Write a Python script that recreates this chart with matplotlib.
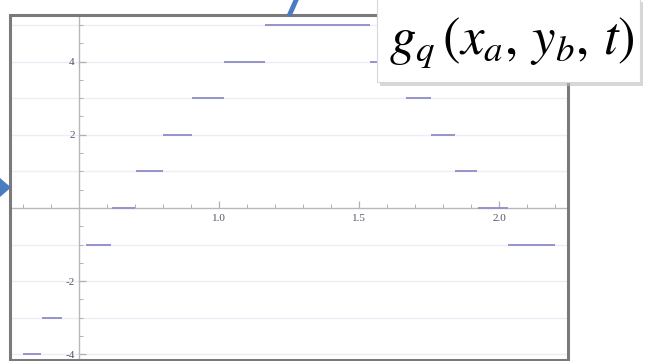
import matplotlib
matplotlib.use("Agg")
import matplotlib.pyplot as plt
from matplotlib.patches import Rectangle, Polygon
from matplotlib.lines import Line2D
import numpy as np

# ---- data ----
seg_level = [-4, -3, -1, 0, 1, 2, 3, 4, 5, 4, 3, 2, 1, 0, -1]
seg_start = [0.300, 0.368, 0.525, 0.618, 0.704, 0.800, 0.904, 1.018, 1.164,
             1.540, 1.668, 1.757, 1.843, 1.925, 2.030]
seg_end   = [0.364, 0.439, 0.614, 0.700, 0.800, 0.904, 1.018, 1.164, 1.540,
             1.668, 1.757, 1.843, 1.920, 2.030, 2.200]
x_major = [1.0, 1.5, 2.0]
x_labels = ["1.0", "1.5", "2.0"]
y_major = [-4, -2, 2, 4]
y_labels = ["-4", "-2", "2", "4"]
label_text = r"$g_q\,(x_a,\,y_b,\,t)$"

W, H = 654, 361
plt.rcParams["mathtext.fontset"] = "stix"
fig = plt.figure(figsize=(W / 100, H / 100), dpi=100)
fig.patch.set_facecolor("white")

def fx(x):
    return x / W

def fy(y):
    return 1 - y / H

# axes box (plot frame) in pixels: x 10..568, y 15..360
L, T, R, B = 10, 15, 568, 360
ax = fig.add_axes([fx(L), fy(B), (R - L) / W, (B - T) / H])
ax.set_xlim(0.2536, 2.246)
ax.set_ylim(-4.153, 5.273)
ax.patch.set_alpha(0)

for s in ["top", "right"]:
    ax.spines[s].set_visible(False)
ax.spines["left"].set_position(("data", 0.5))
ax.spines["bottom"].set_position(("data", 0))
for s in ["left", "bottom"]:
    ax.spines[s].set_color("#b8b8b8")
    ax.spines[s].set_linewidth(1.0)

# light horizontal grid lines
for v in range(-4, 6):
    if v != 0:
        ax.axhline(v, color="#ededf5", lw=1.0, zorder=0)

# step segments
ax.hlines(seg_level, seg_start, seg_end, colors="#9494cc", lw=1.4, zorder=3)

# ticks
ax.set_xticks(x_major)
ax.set_xticklabels(x_labels)
ax.set_xticks(np.round(np.arange(0.3, 2.25, 0.1), 2), minor=True)
ax.set_yticks(y_major)
ax.set_yticklabels(y_labels)
ax.set_yticks(np.arange(-4, 5.5, 0.5), minor=True)
ax.tick_params(axis="both", which="both", direction="in", color="#b0b0b0",
               labelcolor="#55556a", labelsize=8)
ax.tick_params(axis="both", which="major", length=5, width=0.9)
ax.tick_params(axis="both", which="minor", length=3, width=0.7)
for lab in ax.get_xticklabels() + ax.get_yticklabels():
    lab.set_fontfamily("Liberation Serif")
ax.tick_params(axis="x", pad=4)
ax.tick_params(axis="y", pad=3)

# outer frame
fig.patches.append(Rectangle((fx(L), fy(B)), (R - L) / W, (B - T) / H,
                             transform=fig.transFigure, fill=False,
                             edgecolor="#7a7a7a", lw=2.2, zorder=5))

# blue arrow pieces (slide decorations)
fig.lines.append(Line2D([fx(297), fx(289)], [fy(-2), fy(16)],
                        transform=fig.transFigure, color="#4a7cc2",
                        lw=3.5, solid_capstyle="butt", zorder=6))
fig.patches.append(Polygon([(fx(0), fy(178)), (fx(11), fy(187.5)), (fx(0), fy(197))],
                           closed=True, transform=fig.transFigure,
                           facecolor="#4a7cc2", edgecolor="none", zorder=6))

# label box with shadow
bx0, by0, bx1, by1 = 377, -2, 640, 82
fig.patches.append(Rectangle((fx(bx0 + 3), fy(by1 + 4)), (bx1 - bx0) / W, (by1 - by0) / H,
                             transform=fig.transFigure, facecolor="#bdbdbd",
                             edgecolor="none", alpha=0.6, zorder=7))
fig.patches.append(Rectangle((fx(bx0), fy(by1)), (bx1 - bx0) / W, (by1 - by0) / H,
                             transform=fig.transFigure, facecolor="white",
                             edgecolor="#d8d8d8", lw=0.8, zorder=8))
fig.text(fx(512), fy(43), label_text, ha="center", va="center",
         fontsize=38, color="black", zorder=9)

fig.savefig("out.png", dpi=100)
